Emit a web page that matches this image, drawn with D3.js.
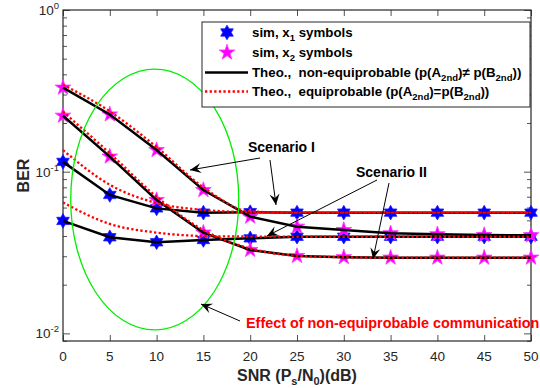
<!DOCTYPE html>
<html lang="en">
<head>
<meta charset="UTF-8">
<title>BER vs SNR</title>
<style>
    body { margin: 0; background: #fff; }
    svg { display: block; font-family: "Liberation Sans", Arial, Helvetica, sans-serif; }
</style>
</head>
<body>
<script src="https://cdnjs.cloudflare.com/ajax/libs/d3/7.8.5/d3.min.js"></script>
<script>

// SNR (dB)
const snr = [0, 5, 10, 15, 20, 25, 30, 35, 40, 45, 50];

// simulated BER (the non-equiprobable theory curves pass through the same points)
const simX1_I  = [0.115, 0.0718, 0.0593, 0.0558, 0.0562, 0.0558, 0.0558, 0.0558, 0.0558, 0.0558, 0.0558];
const simX2_I  = [0.331, 0.226, 0.136, 0.077, 0.0527, 0.0457, 0.0436, 0.0416, 0.041, 0.0406, 0.0404];
const simX1_II = [0.0496, 0.0393, 0.0366, 0.0378, 0.0387, 0.0396, 0.0396, 0.0396, 0.0396, 0.0396, 0.0396];
const simX2_II = [0.222, 0.124, 0.0668, 0.042, 0.0328, 0.0301, 0.0296, 0.0294, 0.0294, 0.0294, 0.0294];

// theory, equiprobable
const eqX1_I  = [0.136, 0.083, 0.064, 0.058, 0.0562, 0.0558, 0.0558, 0.0558, 0.0558, 0.0558, 0.0558];
const eqX2_I  = [0.345, 0.236, 0.142, 0.080, 0.0568, 0.0558, 0.0558, 0.0558, 0.0558, 0.0558, 0.0558];
const eqX1_II = [0.0645, 0.0475, 0.042, 0.0400, 0.0397, 0.0396, 0.0396, 0.0396, 0.0396, 0.0396, 0.0396];
const eqX2_II = [0.235, 0.130, 0.070, 0.0435, 0.0335, 0.0302, 0.0296, 0.0294, 0.0294, 0.0294, 0.0294];

const xTicks = [0, 5, 10, 15, 20, 25, 30, 35, 40, 45, 50];
const yMajor = [1e-2, 1e-1, 1];

const W = 540, H = 388;
const pL = 63, pR = 531, pT = 10, pB = 341;
const ink = "#262626";

const svg = d3.select("body").append("svg")
    .attr("width", W).attr("height", H);

const x = d3.scaleLinear().domain([0, 50]).range([pL, pR]);
const y = d3.scaleLog().domain([0.00897, 1]).range([pB, pT]);

// minor y ticks
let yMinor = [];
[0.01, 0.1].forEach(d => { for (let k = 2; k <= 9; k++) yMinor.push(d * k); });
yMinor.push(0.009);

// axes box + ticks
const gAx = svg.append("g");

function tickAxis(axis, tr, size) {
    const g = gAx.append("g").attr("transform", tr).call(axis.tickSize(size).tickFormat(""));
    g.select(".domain").remove();
    g.selectAll("line").attr("stroke", ink).attr("stroke-width", 0.8);
    return g;
}
const yMin = yMinor.filter(v => v > 0.00897);
tickAxis(d3.axisBottom(x).tickValues(xTicks), `translate(0,${pB})`, -6);
tickAxis(d3.axisTop(x).tickValues(xTicks), `translate(0,${pT})`, -6);
tickAxis(d3.axisLeft(y).tickValues(yMajor), `translate(${pL},0)`, -7);
tickAxis(d3.axisRight(y).tickValues(yMajor), `translate(${pR},0)`, -7);
tickAxis(d3.axisLeft(y).tickValues(yMin), `translate(${pL},0)`, -4);
tickAxis(d3.axisRight(y).tickValues(yMin), `translate(${pR},0)`, -4);

gAx.append("rect")
    .attr("x", pL).attr("y", pT)
    .attr("width", pR - pL).attr("height", pB - pT)
    .attr("fill", "none").attr("stroke", ink).attr("stroke-width", 1.2);

// x tick labels
svg.append("g").selectAll("text").data(xTicks).join("text")
    .attr("x", d => x(d)).attr("y", pB + 20)
    .attr("text-anchor", "middle")
    .attr("font-size", 13.5).attr("fill", ink)
    .text(d => d);

// y tick labels 10^k
const yl = svg.append("g").selectAll("text").data(yMajor).join("text")
    .attr("x", 59).attr("y", d => y(d) + 5)
    .attr("text-anchor", "end")
    .attr("font-size", 13.5).attr("fill", ink);
yl.append("tspan").text("10");
yl.append("tspan").attr("dy", -6).attr("font-size", 9.5).text(d => Math.round(Math.log10(d)));

// axis titles
const xt = svg.append("text")
    .attr("x", (pL + pR) / 2).attr("y", 381)
    .attr("text-anchor", "middle")
    .attr("font-size", 16).attr("font-weight", "bold").attr("fill", ink);
xt.append("tspan").text("SNR (P");
xt.append("tspan").attr("dy", 4).attr("font-size", 11).text("s");
xt.append("tspan").attr("dy", -4).text("/N");
xt.append("tspan").attr("dy", 4).attr("font-size", 11).text("0");
xt.append("tspan").attr("dy", -4).text(")(dB)");

svg.append("text")
    .attr("transform", `translate(29,${(pT + pB) / 2}) rotate(-90)`)
    .attr("text-anchor", "middle")
    .attr("font-size", 16).attr("font-weight", "bold").attr("fill", ink)
    .text("BER");

// star markers
function starPath(n, R, r) {
    const pts = [];
    for (let i = 0; i < 2 * n; i++) {
        const a = -Math.PI / 2 + i * Math.PI / n;
        const rr = i % 2 ? r : R;
        pts.push([rr * Math.cos(a), rr * Math.sin(a)]);
    }
    return "M" + pts.map(p => p[0].toFixed(2) + "," + p[1].toFixed(2)).join("L") + "Z";
}
const hexagram = starPath(6, 7.3, 7.3 / Math.sqrt(3));
const pentagram = starPath(5, 8.2, 8.2 * 0.382);

const plot = svg.append("g");

const xySeries = arr => arr.map((v, i) => [snr[i], v]);

function markers(arr, path, fill, stroke) {
    plot.append("g").selectAll("path").data(xySeries(arr)).join("path")
        .attr("d", path)
        .attr("transform", d => `translate(${x(d[0])},${y(d[1])})`)
        .attr("fill", fill).attr("stroke", stroke).attr("stroke-width", 0.8);
}
markers(simX1_I, hexagram, "#0000ff", "#1a1aff");
markers(simX1_II, hexagram, "#0000ff", "#1a1aff");
markers(simX2_I, pentagram, "#ff00ff", "#ff33ff");
markers(simX2_II, pentagram, "#ff00ff", "#ff33ff");

const lineLin = d3.line().x(d => x(d[0])).y(d => y(d[1]));
const lineSmooth = d3.line().x(d => x(d[0])).y(d => y(d[1])).curve(d3.curveMonotoneX);

[simX1_I, simX2_I, simX1_II, simX2_II].forEach(arr => {
    plot.append("path").attr("d", lineLin(xySeries(arr)))
        .attr("fill", "none").attr("stroke", "#000").attr("stroke-width", 2.5);
});
[eqX1_I, eqX2_I, eqX1_II, eqX2_II].forEach(arr => {
    plot.append("path").attr("d", lineSmooth(xySeries(arr)))
        .attr("fill", "none").attr("stroke", "#ff0000").attr("stroke-width", 2.3)
        .attr("stroke-dasharray", "2.3,2.3");
});

// green ellipse (data units)
const ell = { cx: 9.8, left: 0.75, right: 18.7, topV: 0.431, botV: 0.0105 };
svg.append("ellipse")
    .attr("cx", x(ell.cx))
    .attr("cy", (y(ell.topV) + y(ell.botV)) / 2)
    .attr("rx", (x(ell.right) - x(ell.left)) / 2)
    .attr("ry", (y(ell.botV) - y(ell.topV)) / 2)
    .attr("fill", "none").attr("stroke", "#00ee00").attr("stroke-width", 1.3);

// arrows
const defs = svg.append("defs");
defs.append("marker")
    .attr("id", "head").attr("viewBox", "-12 -6 14 12")
    .attr("markerWidth", 14).attr("markerHeight", 12)
    .attr("markerUnits", "userSpaceOnUse")
    .attr("refX", 0).attr("refY", 0).attr("orient", "auto")
    .append("path").attr("d", "M0,0L-11,-5L-7,0L-11,5Z").attr("fill", "#000");

const arrows = [
    [260, 158, 190, 170],
    [270, 160, 276, 205],
    [377, 180, 267, 236],
    [389, 183, 373, 259],
    [240, 321, 201, 304]
];
svg.append("g").selectAll("line").data(arrows).join("line")
    .attr("x1", d => d[0]).attr("y1", d => d[1])
    .attr("x2", d => d[2]).attr("y2", d => d[3])
    .attr("stroke", "#000").attr("stroke-width", 1)
    .attr("marker-end", "url(#head)");

svg.append("text").attr("x", 248).attr("y", 152)
    .attr("font-size", 14).attr("font-weight", "bold").text("Scenario I");
svg.append("text").attr("x", 356).attr("y", 177)
    .attr("font-size", 14).attr("font-weight", "bold").text("Scenario II");
svg.append("text").attr("x", 246).attr("y", 328)
    .attr("font-size", 14.4).attr("font-weight", "bold").attr("fill", "#ff0000")
    .text("Effect of non-equiprobable communication");

// legend
const lg = svg.append("g");
lg.append("rect").attr("x", 202).attr("y", 22).attr("width", 328).attr("height", 85)
    .attr("fill", "#fff").attr("stroke", ink).attr("stroke-width", 1);

const rowY = [32.5, 52.5, 72.5, 91.5];
lg.append("path").attr("d", hexagram).attr("transform", `translate(227,${rowY[0]})`)
    .attr("fill", "#0000ff").attr("stroke", "#1a1aff").attr("stroke-width", 0.8);
lg.append("path").attr("d", pentagram).attr("transform", `translate(227,${rowY[1]})`)
    .attr("fill", "#ff00ff").attr("stroke", "#ff33ff").attr("stroke-width", 0.8);
lg.append("line").attr("x1", 205).attr("x2", 248).attr("y1", rowY[2]).attr("y2", rowY[2])
    .attr("stroke", "#000").attr("stroke-width", 2.5);
lg.append("line").attr("x1", 205).attr("x2", 248).attr("y1", rowY[3]).attr("y2", rowY[3])
    .attr("stroke", "#ff0000").attr("stroke-width", 2.3).attr("stroke-dasharray", "2.3,2.3");

function legText(i, parts) {
    const t = lg.append("text").attr("x", 252).attr("y", rowY[i] + 4.5)
        .attr("font-size", 13.3).attr("font-weight", "bold").attr("fill", "#000");
    parts.forEach(p => {
        const s = t.append("tspan").text(p[0]);
        if (p[1] === "sub") s.attr("dy", 4).attr("font-size", 9.5);
        if (p[1] === "up") s.attr("dy", -4);
    });
}
legText(0, [["sim, x"], ["1", "sub"], [" symbols", "up"]]);
legText(1, [["sim, x"], ["2", "sub"], [" symbols", "up"]]);
legText(2, [["Theo.,\u00a0 non-equiprobable (p(A"], ["2nd", "sub"], [")\u2260 p(B", "up"], ["2nd", "sub"], ["))", "up"]]);
legText(3, [["Theo.,\u00a0 equiprobable (p(A"], ["2nd", "sub"], [")=p(B", "up"], ["2nd", "sub"], ["))", "up"]]);

</script>
</body>
</html>
